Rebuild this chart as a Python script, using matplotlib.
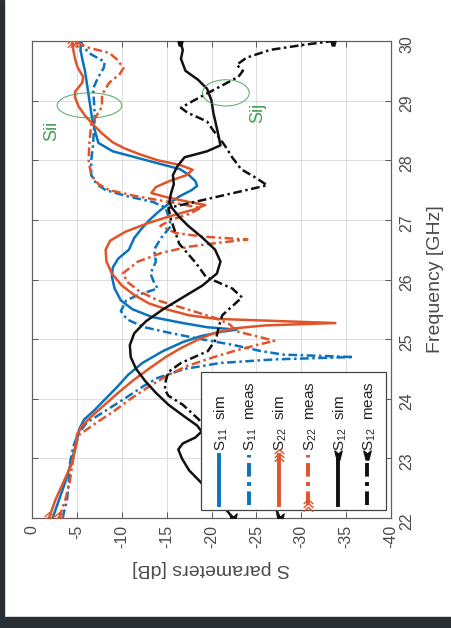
import numpy as np
import matplotlib.pyplot as plt
from matplotlib.patches import Ellipse, Rectangle
from matplotlib.path import Path

plt.rcParams.update({
    "font.family": "Liberation Sans",
    "mathtext.fontset": "custom",
    "mathtext.rm": "Liberation Sans",
    "mathtext.it": "Liberation Sans",
})

# ---- data: frequency [GHz] and S parameter [dB] per trace ----
s11_sim_f = [22.0, 22.3, 22.6, 23.0, 23.3, 23.5, 23.65, 23.8, 24.0, 24.2, 24.4, 24.6, 24.8, 24.95,
             25.05, 25.12, 25.16, 25.2, 25.27, 25.37, 25.5, 25.65, 25.85, 26.05, 26.2, 26.35, 26.5,
             26.7, 26.85, 27.0, 27.15, 27.28, 27.4, 27.5, 27.57, 27.65, 27.75, 27.85, 27.95, 28.05,
             28.15, 28.29, 28.5, 28.7, 28.9, 29.1, 29.3, 29.5, 29.7, 29.85, 30.0]
s11_sim_db = [-2.3, -3.0, -3.7, -4.5, -5.0, -5.3, -5.8, -6.9, -8.2, -9.5, -10.7, -12.3, -14.6, -16.8,
              -18.8, -21.0, -22.8, -19.5, -16.8, -13.4, -11.2, -9.9, -9.2, -8.9, -9.0, -9.6, -10.8,
              -11.4, -12.2, -13.1, -14.2, -15.3, -16.5, -17.8, -18.4, -18.2, -17.5, -16.5, -14.0, -11.5,
              -9.0, -7.4, -7.0, -6.7, -6.5, -6.3, -6.1, -5.9, -5.6, -5.4, -5.5]

s11_meas_f = [22.0, 22.3, 22.6, 22.9, 23.2, 23.4, 23.6, 23.8, 24.0, 24.2, 24.35, 24.5, 24.6, 24.66,
              24.7, 24.74, 24.8, 24.9, 25.0, 25.1, 25.2, 25.33, 25.47, 25.65, 25.75, 25.85, 25.95,
              26.1, 26.3, 26.5, 26.7, 26.9, 27.05, 27.2, 27.3, 27.4, 27.5, 27.6, 27.75, 28.0, 28.25,
              28.5, 28.75, 29.0, 29.2, 29.4, 29.55, 29.65, 29.8, 29.9, 30.0]
s11_meas_db = [-3.4, -3.9, -4.1, -4.2, -4.6, -5.1, -6.1, -8.2, -10.3, -12.3, -14.0, -17.0, -21.0, -27.0,
               -35.8, -28.0, -25.5, -22.5, -18.8, -15.5, -12.5, -10.6, -9.9, -10.5, -12.0, -14.0, -13.6,
               -13.2, -13.8, -13.6, -14.4, -15.5, -15.2, -14.9, -13.5, -10.5, -8.2, -7.2, -6.6, -6.6, -6.8,
               -6.9, -7.0, -6.9, -6.8, -7.4, -8.0, -8.1, -6.3, -5.8, -5.3]

s22_sim_f = [22.0, 22.3, 22.6, 22.9, 23.2, 23.4, 23.55, 23.7, 23.9, 24.1, 24.3, 24.5, 24.7, 24.85,
             25.0, 25.1, 25.18, 25.23, 25.27, 25.3, 25.34, 25.4, 25.5, 25.6, 25.75, 25.9, 26.1, 26.3,
             26.5, 26.65, 26.8, 26.95, 27.08, 27.18, 27.25, 27.3, 27.38, 27.45, 27.55, 27.65, 27.75,
             27.84, 27.92, 28.0, 28.1, 28.2, 28.3, 28.45, 28.6, 28.75, 28.9, 29.05, 29.15, 29.3, 29.4,
             29.55, 29.7, 29.85, 30.0]
s22_sim_db = [-1.9, -2.6, -3.5, -4.4, -4.9, -5.0, -5.6, -6.6, -8.1, -9.6, -11.2, -13.0, -14.9, -16.6,
              -18.6, -20.3, -22.5, -26.0, -33.8, -28.0, -20.5, -17.5, -15.0, -13.0, -11.3, -10.0, -8.9, -8.3,
              -8.2, -8.7, -10.4, -13.0, -15.8, -18.2, -19.3, -17.5, -15.0, -13.3, -13.8, -15.3, -17.2,
              -17.9, -16.5, -14.0, -12.0, -10.3, -9.0, -7.8, -6.8, -5.9, -5.2, -4.8, -4.8, -5.6, -5.7,
              -5.1, -4.8, -4.6, -4.5]

s22_meas_f = [22.0, 22.3, 22.6, 22.9, 23.2, 23.4, 23.6, 23.8, 24.0, 24.2, 24.4, 24.55, 24.7, 24.8,
              24.9, 24.97, 25.03, 25.13, 25.25, 25.35, 25.5, 25.65, 25.8, 25.95, 26.1, 26.3, 26.45,
              26.55, 26.62, 26.67, 26.72, 26.78, 26.9, 27.0, 27.1, 27.2, 27.28, 27.4, 27.5, 27.6, 27.75,
              28.0, 28.3, 28.6, 28.9, 29.1, 29.3, 29.45, 29.55, 29.7, 29.8, 29.9, 30.0]
s22_meas_db = [-3.0, -3.7, -4.2, -4.5, -4.8, -5.3, -7.2, -9.2, -11.0, -13.0, -15.2, -17.3, -20.3, -22.5,
               -25.0, -27.0, -25.5, -22.8, -22.0, -20.5, -17.3, -14.0, -12.0, -10.7, -10.1, -11.8, -14.5,
               -17.5, -21.0, -24.0, -19.0, -16.0, -14.3, -15.5, -17.5, -18.8, -16.0, -11.5, -8.6, -7.4, -6.6,
               -6.3, -6.4, -6.6, -7.8, -7.8, -8.6, -9.8, -10.2, -9.4, -8.6, -6.0, -4.8]

s12_sim_f = [22.0, 22.2, 22.4, 22.6, 22.8, 23.0, 23.15, 23.25, 23.35, 23.45, 23.55, 23.7, 23.9, 24.1,
             24.3, 24.5, 24.7, 24.9, 25.1, 25.3, 25.5, 25.7, 25.9, 26.1, 26.3, 26.5, 26.7, 26.9, 27.05,
             27.2, 27.3, 27.45, 27.6, 27.75, 27.9, 28.05, 28.15, 28.25, 28.4, 28.6, 28.8, 29.0, 29.2,
             29.35, 29.5, 29.7, 29.85, 30.0]
s12_sim_db = [-22.4, -21.3, -20.0, -18.8, -17.5, -16.7, -16.3, -16.8, -18.2, -18.9, -18.4, -17.0, -15.2,
              -13.8, -12.6, -11.6, -11.0, -10.9, -11.4, -12.7, -14.6, -16.8, -19.0, -20.6, -21.0, -20.4,
              -19.0, -17.4, -16.4, -15.6, -15.3, -15.5, -15.8, -15.7, -16.2, -17.0, -19.5, -21.0, -20.8,
              -20.5, -20.2, -20.0, -19.5, -18.5, -17.1, -16.6, -16.8, -16.5]

s12_meas_f = [22.0, 22.4, 22.8, 23.2, 23.45, 23.65, 23.9, 24.05, 24.15, 24.3, 24.45, 24.6, 24.8, 25.0,
              25.2, 25.4, 25.55, 25.7, 25.85, 26.04, 26.27, 26.6, 27.0, 27.2, 27.58, 27.7, 27.85, 28.05,
              28.22, 28.35, 28.5, 28.65, 28.8, 28.88, 29.0, 29.2, 29.4, 29.5, 29.6, 29.72, 29.85, 29.93,
              30.0]
s12_meas_db = [-27.6, -26.5, -24.5, -21.5, -19.5, -18.6, -16.8, -15.2, -14.8, -14.9, -15.2, -16.6, -19.6,
               -20.5, -20.8, -21.2, -22.3, -23.4, -22.3, -19.4, -18.3, -16.4, -15.5, -15.2, -26.2, -25.0,
               -23.3, -22.3, -21.6, -21.0, -20.2, -19.5, -17.3, -16.6, -18.0, -20.5, -23.0, -23.5, -22.8,
               -23.9, -26.5, -30.0, -33.5]

legend_labels = [r"$\mathrm{S}_{11}$  sim", r"$\mathrm{S}_{11}$  meas", r"$\mathrm{S}_{22}$  sim",
                 r"$\mathrm{S}_{22}$  meas", r"$\mathrm{S}_{12}$  sim", r"$\mathrm{S}_{12}$  meas"]

db_ticks = [0, -5, -10, -15, -20, -25, -30, -35, -40]
freq_ticks = [22, 23, 24, 25, 26, 27, 28, 29, 30]

sii_center, sii_size = (-6.4, 28.92), (7.2, 0.42)
sij_center, sij_size = (-21.6, 29.13), (5.2, 0.44)

BLUE = "#0b72bd"
ORANGE = "#e0542a"
BLACK = "#111111"
GREEN = "#3f9d52"
DASHDOT = (0, (3.5, 1.4, 1.0, 1.4))

# chevron stack and tail-feather markers used on the S22 / S12 traces
chevrons = Path([(-1, -1.3), (0, -0.4), (1, -1.3),
                 (-1, -0.5), (0, 0.4), (1, -0.5),
                 (-1, 0.3), (0, 1.2), (1, 0.3)],
                [Path.MOVETO, Path.LINETO, Path.LINETO] * 3)
tail = Path([(-0.8, 1), (0, 0.3), (0.8, 1), (0.3, -1), (-0.3, -1), (-0.8, 1)],
            [Path.MOVETO] + [Path.LINETO] * 4 + [Path.CLOSEPOLY])


def marker_style(mk, col, idx):
    if mk is None:
        return {}
    filled = mk is tail
    return dict(marker=mk, markevery=idx, markersize=6.5 if filled else 9,
                markerfacecolor=col if filled else "none",
                markeredgecolor=col, markeredgewidth=1.0)


fig = plt.figure(figsize=(4.52, 6.28), dpi=100)
fig.patch.set_facecolor("white")

# dark frame strips
fig.patches.append(Rectangle((0, 0), 1, 11 / 628, transform=fig.transFigure,
                             color="#2a2f34", zorder=0))
fig.patches.append(Rectangle((0, 0), 4.5 / 452, 1, transform=fig.transFigure,
                             color="#2a2f34", zorder=0))

ax = fig.add_axes([32 / 452, 1 - 518 / 628, 359 / 452, 477 / 628])

# x = dB (0 on the left), y = frequency (rotated layout)
traces = [
    (s11_sim_f, s11_sim_db, BLUE, "-", None),
    (s11_meas_f, s11_meas_db, BLUE, DASHDOT, None),
    (s22_sim_f, s22_sim_db, ORANGE, "-", chevrons),
    (s22_meas_f, s22_meas_db, ORANGE, DASHDOT, chevrons),
    (s12_sim_f, s12_sim_db, BLACK, "-", tail),
    (s12_meas_f, s12_meas_db, BLACK, DASHDOT, tail),
]
for f, db, col, ls, mk in traces:
    ax.plot(db, f, color=col, linestyle=ls, linewidth=1.8, zorder=3,
            **marker_style(mk, col, [0, len(f) - 1]))

ax.add_patch(Ellipse(sii_center, sii_size[0], sii_size[1], fill=False,
                     edgecolor=GREEN, linewidth=0.8, alpha=0.8, zorder=4))
ax.add_patch(Ellipse(sij_center, sij_size[0], sij_size[1], fill=False,
                     edgecolor=GREEN, linewidth=0.8, alpha=0.8, zorder=4))
ax.text(-2.2, 28.5, "Sii", rotation=90, color=GREEN, fontsize=13,
        ha="center", va="center", zorder=4)
ax.text(-25.1, 28.8, "Sij", rotation=90, color=GREEN, fontsize=13,
        ha="center", va="center", zorder=4)

ax.set_xlim(0, -40)
ax.set_ylim(22, 30)
ax.set_xticks(db_ticks)
ax.set_xticklabels([str(t) for t in db_ticks])
ax.set_yticks(freq_ticks)
ax.set_yticklabels([str(t) for t in freq_ticks])
ax.tick_params(axis="both", direction="in", length=4, width=0.7, color="#555555",
               labelcolor="#4a4a4a", labelsize=11.5, top=True, right=True,
               left=True, bottom=True)
ax.tick_params(axis="x", labelrotation=90, pad=5)
ax.tick_params(axis="y", labelleft=False, labelright=True, labelrotation=90, pad=6)
ax.grid(True, color="#dddddd", linewidth=0.7)
ax.set_axisbelow(True)
for sp in ax.spines.values():
    sp.set_color("#606060")
    sp.set_linewidth(0.9)

fig.text(211 / 452, 1 - 568 / 628, "S parameters [dB]", rotation=180,
         ha="center", va="center", fontsize=14, color="#4a4a4a")
fig.text(436 / 452, 1 - 279 / 628, "Frequency [GHz]", rotation=90,
         ha="center", va="center", fontsize=14, color="#4a4a4a")

# legend drawn by hand: vertical samples with rotated labels
ax.add_patch(Rectangle((0.472, 0.017), 0.514, 0.289, transform=ax.transAxes,
                       facecolor="white", edgecolor="#444444", linewidth=0.9, zorder=5))
for i, ((f, db, col, ls, mk), lab) in enumerate(zip(traces, legend_labels)):
    x = 0.522 + i * 0.0825
    idx = [0] if i == 3 else [1]
    ax.plot([x, x], [0.027, 0.132], transform=ax.transAxes, color=col,
            linestyle=ls, linewidth=2.8, zorder=6, clip_on=False,
            **marker_style(mk, col, idx))
    ax.text(x + 0.006, 0.14, lab, transform=ax.transAxes, rotation=90,
            ha="center", va="bottom", fontsize=11, color="#222222", zorder=7)

fig.savefig("out.png", dpi=100, facecolor=fig.get_facecolor())
